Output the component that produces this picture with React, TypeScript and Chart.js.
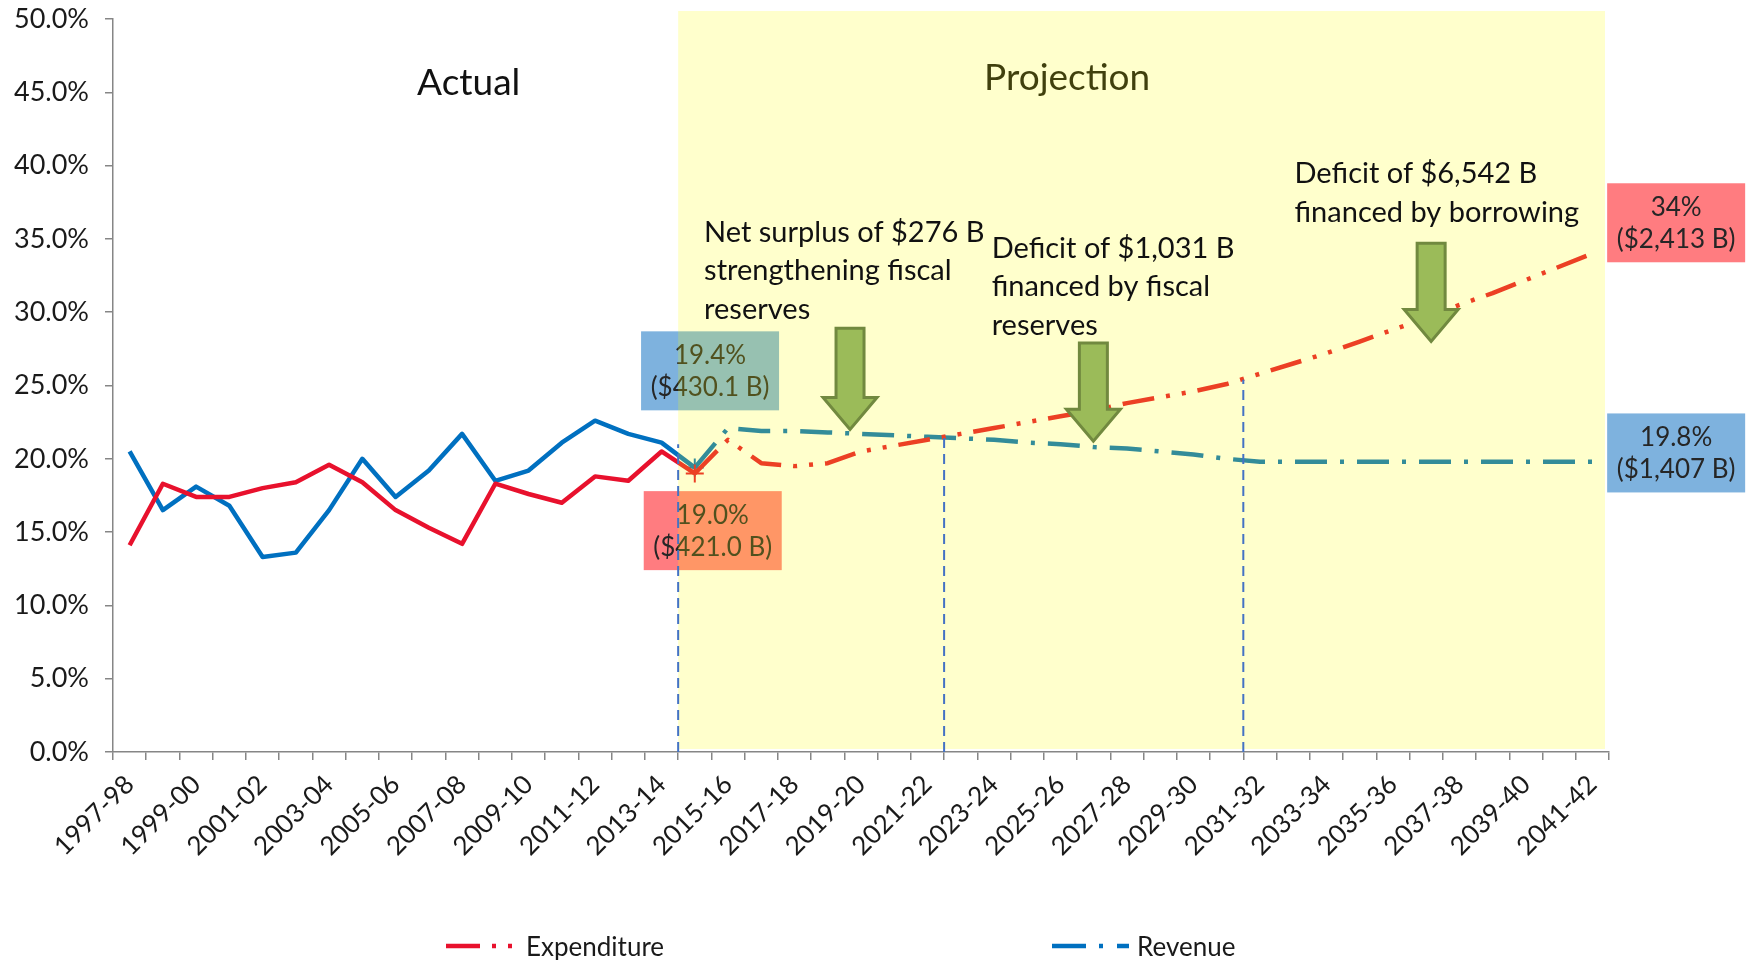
import React, { useEffect, useRef } from 'react';
import { Chart, registerables } from 'chart.js';

Chart.register(...registerables);

const categories = [
  '1997-98', '1998-99', '1999-00', '2000-01', '2001-02', '2002-03', '2003-04', '2004-05', '2005-06',
  '2006-07', '2007-08', '2008-09', '2009-10', '2010-11', '2011-12', '2012-13', '2013-14', '2014-15',
  '2015-16', '2016-17', '2017-18', '2018-19', '2019-20', '2020-21', '2021-22', '2022-23', '2023-24',
  '2024-25', '2025-26', '2026-27', '2027-28', '2028-29', '2029-30', '2030-31', '2031-32', '2032-33',
  '2033-34', '2034-35', '2035-36', '2036-37', '2037-38', '2038-39', '2039-40', '2040-41', '2041-42',
];

// % of GDP
const expenditure = [
  14.1, 18.3, 17.4, 17.4, 18.0, 18.4, 19.6, 18.4, 16.5, 15.3, 14.2, 18.3, 17.6, 17.0, 18.8, 18.5, 20.5, 19.0,
  21.3, 19.7, 19.5, 19.7, 20.5, 20.9, 21.3, 21.7, 22.1, 22.5, 22.9, 23.3, 23.8, 24.2, 24.6, 25.1,
  25.8, 26.5, 27.2, 28.0, 28.8, 29.6, 30.5, 31.3, 32.2, 33.1, 34.0,
];
const revenue = [
  20.5, 16.5, 18.1, 16.8, 13.3, 13.6, 16.5, 20.0, 17.4, 19.2, 21.7, 18.5, 19.2, 21.1, 22.6, 21.7, 21.1, 19.4,
  22.1, 21.9, 21.9, 21.8, 21.7, 21.6, 21.5, 21.4, 21.3, 21.1, 21.0, 20.8, 20.7, 20.5, 20.3, 20.0,
  19.8, 19.8, 19.8, 19.8, 19.8, 19.8, 19.8, 19.8, 19.8, 19.8, 19.8,
];
const projectionStart = 17; // 2014-15, first point of projection line

const yMin = 0;
const yMax = 50;
const yStep = 5;

// annotations (anchored in data units: category index, % value)
const dividerIndex = [16.5, 24.5, 33.5];
const dividerTop = [21.0, 21.5, 25.4];

const noteLines = [
  ['Net surplus of $276 B', 'strengthening fiscal', 'reserves'],
  ['Deficit of $1,031 B', 'financed by fiscal', 'reserves'],
  ['Deficit of $6,542 B', 'financed by borrowing'],
];
const noteIndex = [17.28, 25.93, 35.04];
const noteValue = [34.8, 33.7, 38.8];

const arrowIndex = [21.67, 28.99, 39.15];
const arrowTip = [22.0, 21.2, 28.0];
const arrowTop = [28.9, 27.9, 34.7];

const boxLines = [
  ['19.4%', '($430.1 B)'],
  ['19.0%', '($421.0 B)'],
  ['34%', '($2,413 B)'],
  ['19.8%', '($1,407 B)'],
];
const boxIndex = [17.46, 17.54, 46.52, 46.52];
const boxValue = [26.0, 15.1, 36.1, 20.4];
const boxFill = ['#7EB2DE', '#FF7C80', '#FF7C80', '#7EB2DE'];

const sectionTitles = ['Actual', 'Projection'];
const sectionIndex = [10.2, 28.2];
const sectionValue = [45.6, 46.0];

const RED = '#E8112D';
const BLUE = '#0070C0';
const FONT = 'Lato';
const expDash = [32, 12, 4, 12, 4, 12];
const revDash = [32, 13, 4, 13];

const annotationPlugin = {
  id: 'annotations',
  afterDatasetsDraw(chart: any) {
    const { ctx, chartArea, scales } = chart;
    const x = scales.x;
    const y = scales.y;
    ctx.save();

    // value boxes (under the projection overlay)
    const bw = 138;
    const bh = 79;
    boxLines.forEach((lines, i) => {
      const cx = x.getPixelForValue(boxIndex[i]);
      const cy = y.getPixelForValue(boxValue[i]);
      ctx.fillStyle = boxFill[i];
      ctx.fillRect(cx - bw / 2, cy - bh / 2, bw, bh);
      ctx.fillStyle = '#262626';
      ctx.font = `26px ${FONT}`;
      ctx.textAlign = 'center';
      ctx.textBaseline = 'middle';
      ctx.fillText(lines[0], cx, cy - 15);
      ctx.fillText(lines[1], cx, cy + 17);
    });

    // section titles
    ctx.font = `37px ${FONT}`;
    ctx.textAlign = 'center';
    ctx.textBaseline = 'middle';
    ctx.fillStyle = '#111';
    sectionTitles.forEach((t, i) => {
      ctx.fillText(t, x.getPixelForValue(sectionIndex[i]), y.getPixelForValue(sectionValue[i]));
    });

    // projection overlay (semi-transparent yellow)
    const ox = x.getPixelForValue(projectionStart - 0.5);
    const top = chartArea.top - 8;
    const bottom = chartArea.bottom - 3;
    ctx.fillStyle = 'rgba(255,255,0,0.2)';
    ctx.fillRect(ox, top, chartArea.right - 4 - ox, bottom - top);

    // dashed dividers
    ctx.strokeStyle = '#4472C4';
    ctx.lineWidth = 2;
    ctx.setLineDash([10, 6]);
    dividerIndex.forEach((d, i) => {
      const px = x.getPixelForValue(d);
      ctx.beginPath();
      ctx.moveTo(px, y.getPixelForValue(0));
      ctx.lineTo(px, y.getPixelForValue(dividerTop[i]));
      ctx.stroke();
    });
    ctx.setLineDash([]);

    // arrows
    arrowIndex.forEach((a, i) => {
      const tx = x.getPixelForValue(a);
      const ty = y.getPixelForValue(arrowTip[i]);
      const topY = y.getPixelForValue(arrowTop[i]);
      const sw = 14;
      const hw = 27;
      const hl = 32;
      ctx.beginPath();
      ctx.moveTo(tx - sw, topY);
      ctx.lineTo(tx + sw, topY);
      ctx.lineTo(tx + sw, ty - hl);
      ctx.lineTo(tx + hw, ty - hl);
      ctx.lineTo(tx, ty);
      ctx.lineTo(tx - hw, ty - hl);
      ctx.lineTo(tx - sw, ty - hl);
      ctx.closePath();
      ctx.fillStyle = '#9BBB59';
      ctx.fill();
      ctx.strokeStyle = '#71893F';
      ctx.lineWidth = 3;
      ctx.lineJoin = 'miter';
      ctx.stroke();
    });

    // notes
    ctx.font = `29px ${FONT}`;
    ctx.textAlign = 'left';
    ctx.textBaseline = 'alphabetic';
    ctx.fillStyle = '#111';
    noteLines.forEach((lines, i) => {
      const lx = x.getPixelForValue(noteIndex[i]);
      const ly = y.getPixelForValue(noteValue[i]);
      lines.forEach((t, k) => ctx.fillText(t, lx, ly + k * 38.4));
    });

    ctx.restore();
  },
};

function LegendSample({ color, dash, width }: { color: string; dash: string; width: number }) {
  return (
    <svg width={width} height={10} style={{ display: 'block' }}>
      <line x1={0} y1={5} x2={width} y2={5} stroke={color} strokeWidth={4.5} strokeDasharray={dash} />
    </svg>
  );
}

export default function App() {
  const canvasRef = useRef<HTMLCanvasElement | null>(null);

  useEffect(() => {
    const canvas = canvasRef.current;
    if (!canvas) return;
    Chart.defaults.font.family = FONT;
    const pointR = (ctx: any) => (ctx.dataIndex === projectionStart ? 9 : 0);
    const chart = new Chart(canvas, {
      type: 'line',
      data: {
        labels: categories,
        datasets: [
          {
            label: 'Expenditure',
            data: expenditure,
            borderColor: RED,
            backgroundColor: RED,
            borderWidth: 4.5,
            tension: 0,
            pointStyle: 'cross',
            pointRadius: pointR,
            pointBorderWidth: 2,
            pointBorderColor: RED,
            pointHoverRadius: 0,
            borderJoinStyle: 'round',
            segment: {
              borderDash: (ctx: any) => (ctx.p0DataIndex >= projectionStart ? expDash : undefined),
            },
          },
          {
            label: 'Revenue',
            data: revenue,
            borderColor: BLUE,
            backgroundColor: BLUE,
            borderWidth: 4.5,
            tension: 0,
            pointStyle: 'cross',
            pointRadius: pointR,
            pointBorderWidth: 2,
            pointBorderColor: BLUE,
            pointHoverRadius: 0,
            borderJoinStyle: 'round',
            segment: {
              borderDash: (ctx: any) => (ctx.p0DataIndex >= projectionStart ? revDash : undefined),
            },
          },
        ],
      },
      options: {
        responsive: false,
        animation: false,
        events: [],
        layout: { padding: { left: 0, right: 139, top: 19, bottom: 0 } },
        plugins: {
          legend: { display: false },
          tooltip: { enabled: false },
        },
        scales: {
          x: {
            type: 'category',
            offset: true,
            grid: {
              offset: true,
              drawOnChartArea: false,
              drawTicks: true,
              tickLength: 8,
              color: '#868686',
              lineWidth: 1.5,
            },
            border: { color: '#868686', width: 1.5 },
            ticks: {
              autoSkip: false,
              maxRotation: 45,
              minRotation: 45,
              padding: 9,
              color: '#1a1a1a',
              font: { family: FONT, size: 26 },
              callback: (_v: any, i: number) => (i % 2 === 0 ? categories[i] : ''),
            },
            afterFit: (s: any) => {
              s.height = 208;
              s.paddingLeft = 0;
              s.paddingRight = 0;
            },
          },
          y: {
            min: yMin,
            max: yMax,
            grid: {
              drawOnChartArea: false,
              drawTicks: true,
              tickLength: 8,
              color: '#868686',
              lineWidth: 1.5,
            },
            border: { color: '#868686', width: 1.5 },
            ticks: {
              stepSize: yStep,
              padding: 16,
              color: '#1a1a1a',
              font: { family: FONT, size: 27 },
              callback: (v: any) => Number(v).toFixed(1) + '%',
            },
            afterFit: (s: any) => {
              s.width = 113;
              s.paddingTop = 0;
              s.paddingBottom = 0;
            },
          },
        },
      },
      plugins: [annotationPlugin],
    } as any);
    return () => chart.destroy();
  }, []);

  return (
    <div style={{ position: 'fixed', left: 0, top: 0, width: 1748, height: 960, background: '#fff', overflow: 'hidden' }}>
      <canvas ref={canvasRef} width={1748} height={960} style={{ width: 1748, height: 960, display: 'block' }} />
      <div style={{ position: 'absolute', left: 446, top: 928, height: 36, display: 'flex', alignItems: 'center', fontFamily: FONT, fontSize: 26, color: '#1a1a1a' }}>
        <LegendSample color={RED} dash="34 12 4 12 4 100" width={66} />
        <span style={{ marginLeft: 14 }}>Expenditure</span>
      </div>
      <div style={{ position: 'absolute', left: 1052, top: 928, height: 36, display: 'flex', alignItems: 'center', fontFamily: FONT, fontSize: 26, color: '#1a1a1a' }}>
        <LegendSample color={BLUE} dash="34 13 4 14 13 100" width={77} />
        <span style={{ marginLeft: 8 }}>Revenue</span>
      </div>
    </div>
  );
}
